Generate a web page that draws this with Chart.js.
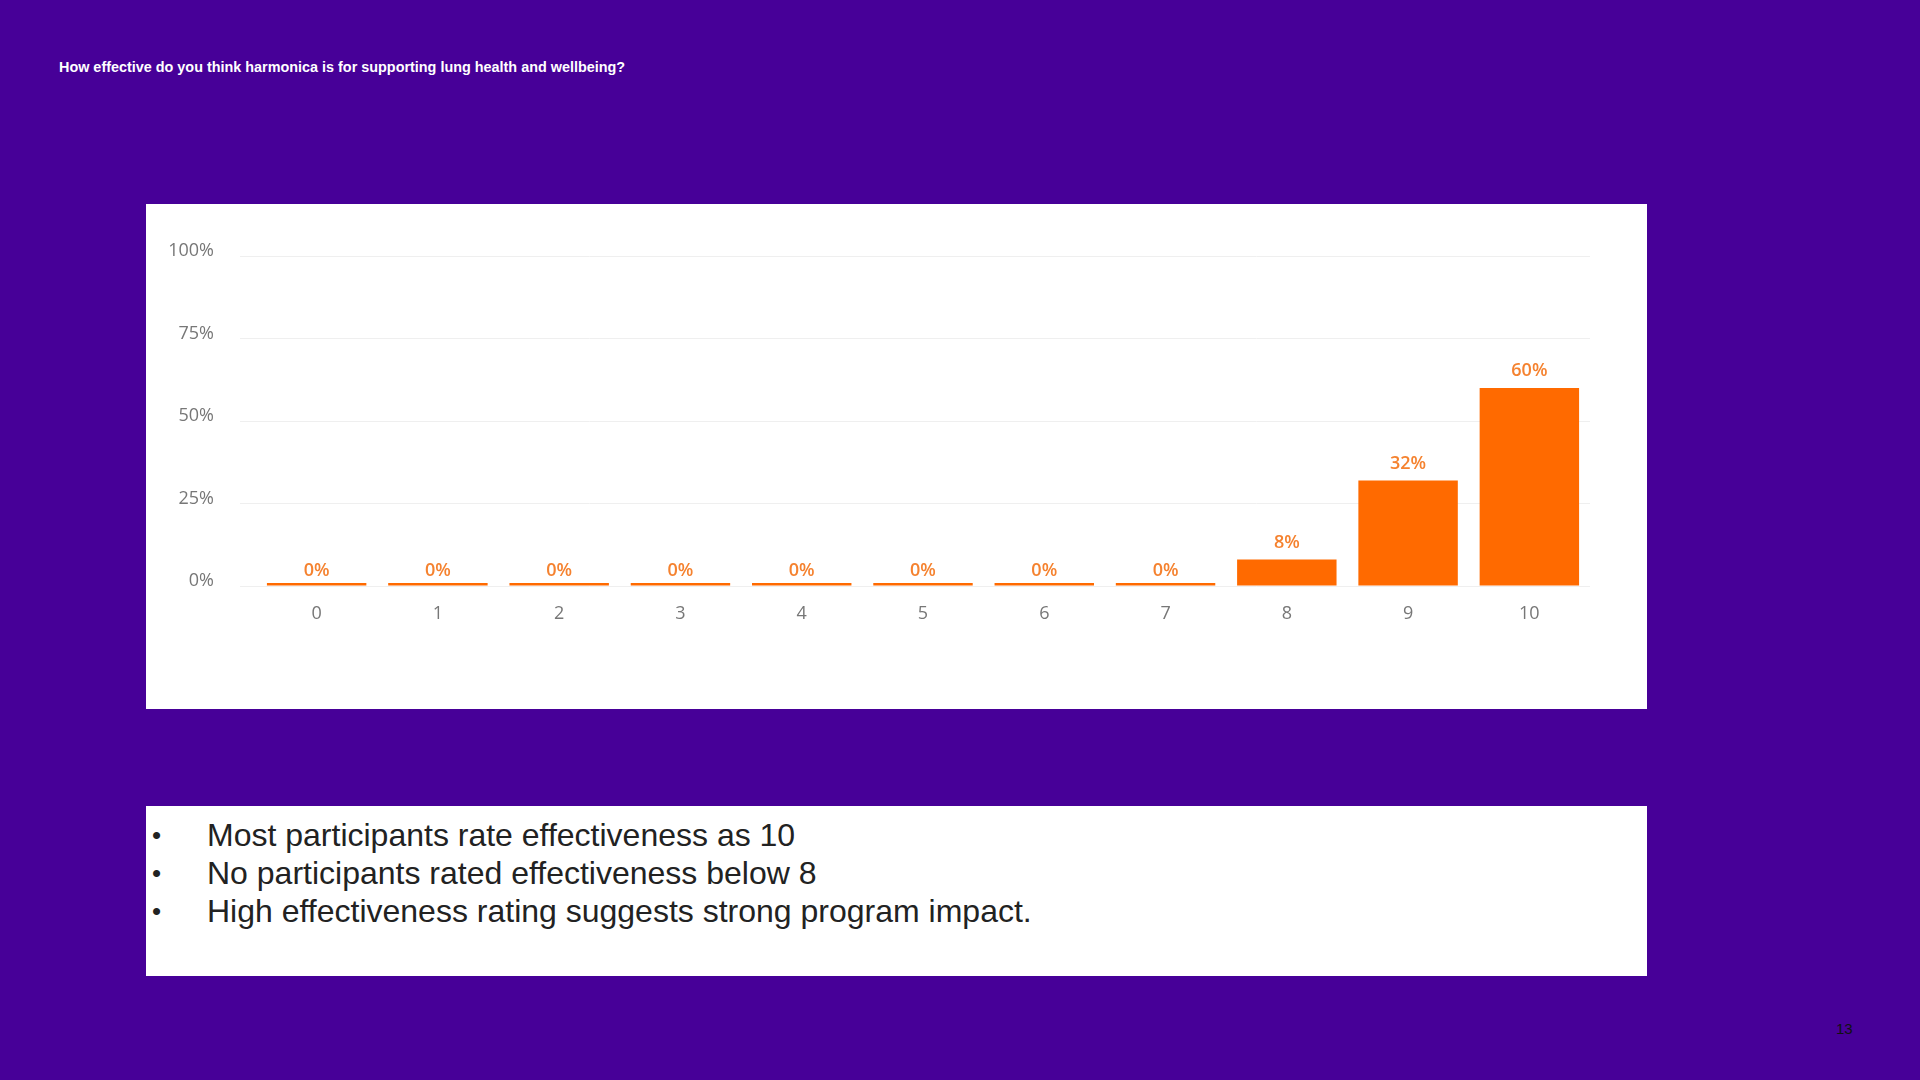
<!DOCTYPE html>
<html>
<head>
<meta charset="utf-8">
<script src="https://cdn.jsdelivr.net/npm/chart.js@4.4.1/dist/chart.umd.min.js"></script>
<style>
    html, body { margin: 0; padding: 0; }
    body {
        width: 1920px;
        height: 1080px;
        background: #470098;
        position: relative;
        overflow: hidden;
        font-family: "Liberation Sans", Arial, sans-serif;
    }
    #title {
        position: absolute;
        left: 59px;
        top: 59px;
        font-size: 14.4px;
        font-weight: bold;
        color: #ffffff;
        white-space: nowrap;
    }
    #chartBox {
        position: absolute;
        left: 146px;
        top: 204px;
        width: 1501px;
        height: 505px;
        background: #ffffff;
    }
    #notes {
        position: absolute;
        left: 146px;
        top: 806px;
        width: 1501px;
        height: 170px;
        background: #ffffff;
        box-sizing: border-box;
        padding-top: 10px;
    }
    .note {
        position: relative;
        height: 38px;
        line-height: 38px;
        font-size: 32px;
        color: #222222;
        padding-left: 61px;
        white-space: nowrap;
    }
    .note::before {
        content: "\2022";
        position: absolute;
        left: 6px;
        font-size: 26px;
    }
    #pageNum {
        position: absolute;
        left: 1836px;
        top: 1020px;
        font-size: 15px;
        color: #111111;
    }
</style>
</head>
<body>
<div id="title">How effective do you think harmonica is for supporting lung health and wellbeing?</div>
<div id="chartBox"><canvas id="ratingChart"></canvas></div>
<div id="notes">
    <div class="note">Most participants rate effectiveness as 10</div>
    <div class="note">No participants rated effectiveness below 8</div>
    <div class="note">High effectiveness rating suggests strong program impact.</div>
</div>
<div id="pageNum">13</div>

<script>
// Rating scale 0-10 and share of responses (%)
const ratings = ['0', '1', '2', '3', '4', '5', '6', '7', '8', '9', '10'];
const shares = [0, 0, 0, 0, 0, 0, 0, 0, 8, 32, 60];
const yTicks = [0, 25, 50, 75, 100];

// Draws the % label above each bar
const barLabels = {
    id: 'barLabels',
    afterDatasetsDraw(chart) {
        const ctx = chart.ctx;
        const meta = chart.getDatasetMeta(0);
        ctx.save();
        ctx.font = '600 18px "Open Sans", sans-serif';
        ctx.fillStyle = '#f5822f';
        ctx.textAlign = 'center';
        ctx.textBaseline = 'middle';
        meta.data.forEach(function(bar, i) {
            // zero bars are only a thin line, keep their label a bit lower
            const y = shares[i] > 0 ? bar.y - 17 : bar.base - 15;
            ctx.fillText(shares[i] + '%', bar.x, y);
        });
        ctx.restore();
    }
};

document.addEventListener('DOMContentLoaded', function() {
    const ctx = document.getElementById('ratingChart').getContext('2d');
    new Chart(ctx, {
        type: 'bar',
        data: {
            labels: ratings,
            datasets: [{
                data: shares,
                backgroundColor: '#ff6a00',
                borderWidth: 0,
                minBarLength: 3,
                categoryPercentage: 1,
                barPercentage: 0.82
            }]
        },
        options: {
            responsive: true,
            maintainAspectRatio: false,
            animation: false,
            layout: {
                padding: { left: 0, right: 57, top: 52, bottom: 0 }
            },
            scales: {
                y: {
                    min: 0,
                    max: 100,
                    afterBuildTicks: function(scale) {
                        scale.ticks = yTicks.map(function(v) { return { value: v }; });
                    },
                    afterFit: function(scale) { scale.width = 110; },
                    border: { display: false },
                    grid: {
                        color: '#efefef',
                        tickLength: 16,
                        drawTicks: true
                    },
                    ticks: {
                        padding: 26,
                        labelOffset: -5,
                        color: '#777777',
                        font: { family: '"Open Sans", sans-serif', size: 18 },
                        callback: function(v) { return v + '%'; }
                    }
                },
                x: {
                    afterFit: function(scale) { scale.height = 123; },
                    border: { display: false },
                    grid: { display: false },
                    ticks: {
                        padding: 9,
                        color: '#777777',
                        font: { family: '"Open Sans", sans-serif', size: 18 }
                    }
                }
            },
            plugins: {
                legend: { display: false },
                tooltip: { enabled: false }
            }
        },
        plugins: [barLabels]
    });
});
</script>
</body>
</html>
